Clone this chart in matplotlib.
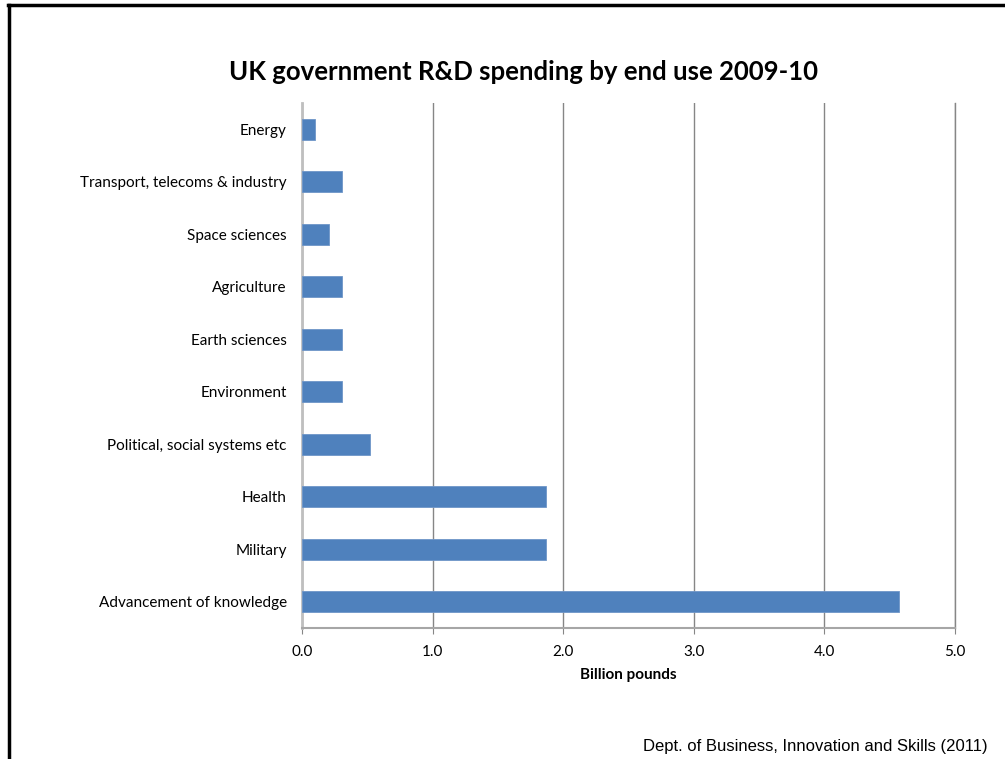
import matplotlib
matplotlib.use("Agg")
import matplotlib.pyplot as plt
from matplotlib.lines import Line2D

categories = ["Advancement of knowledge", "Military", "Health",
              "Political, social systems etc", "Environment", "Earth sciences",
              "Agriculture", "Space sciences", "Transport, telecoms & industry", "Energy"]
values = [4.57, 1.87, 1.87, 0.52, 0.31, 0.31, 0.31, 0.21, 0.31, 0.10]
xticks = [0.0, 1.0, 2.0, 3.0, 4.0, 5.0]
xtick_labels = ["0.0", "1.0", "2.0", "3.0", "4.0", "5.0"]

W, H = 1005, 759
fig = plt.figure(figsize=(W / 100, H / 100), dpi=100)
fig.patch.set_facecolor("white")

ax = fig.add_axes([302 / W, 1 - 628 / H, (955 - 302) / W, (628 - 103) / H])
ypos = list(range(len(categories)))
ax.barh(ypos, values, height=0.4, color="#4f81bd", edgecolor="#6f96c8", linewidth=0.6, zorder=3)
ax.set_ylim(-0.5, len(categories) - 0.5)
ax.set_xlim(0, 5)
ax.set_xticks(xticks)
ax.set_xticklabels(xtick_labels, fontsize=11, family="Lato")
ax.set_yticks(ypos)
ax.set_yticklabels(categories, fontsize=11, family="Lato")
ax.tick_params(axis="y", length=0, pad=11)
ax.tick_params(axis="x", length=4, color="#868686", pad=8)
ax.grid(axis="x", color="#868686", linewidth=1.0, zorder=0)
ax.spines["top"].set_visible(False)
ax.spines["right"].set_color("#868686")
ax.spines["right"].set_linewidth(1.0)
ax.spines["left"].set_color("#bfbfbf")
ax.spines["left"].set_linewidth(2)
ax.spines["bottom"].set_color("#a6a6a6")
ax.spines["bottom"].set_linewidth(1.5)
ax.set_xlabel("Billion pounds", fontsize=11, fontweight="bold", family="Lato", labelpad=7)

fig.text(523 / W, 1 - 72 / H, "UK government R&D spending by end use 2009-10",
         ha="center", va="center", fontsize=18.5, fontweight="bold", family="Lato")
fig.text(988 / W, 1 - 746 / H, "Dept. of Business, Innovation and Skills (2011)",
         ha="right", va="center", fontsize=12, family="Liberation Sans")

fig.add_artist(Line2D([8.5 / W, 8.5 / W], [0, 1 - 5 / H], color="black", linewidth=2.5,
                      transform=fig.transFigure))
fig.add_artist(Line2D([7.5 / W, 1], [1 - 5 / H, 1 - 5 / H], color="black", linewidth=2.5,
                      transform=fig.transFigure))

fig.savefig("out.png", dpi=100)
